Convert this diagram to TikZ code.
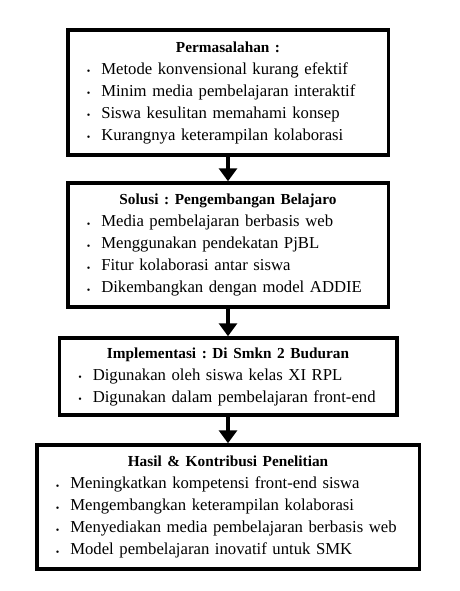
\documentclass[tikz,border=0pt]{standalone}
\usepackage{fontspec}
\setmainfont{Liberation Serif}
\frenchspacing
\usetikzlibrary{arrows.meta}
\newcommand{\butir}{\hspace*{11pt}\makebox[14.5pt][l]{\fontsize{10}{10}\selectfont\raisebox{-0.6pt}{\textbullet}}}
\newcommand{\judul}[1]{{\centering\fontsize{15.3}{22}\selectfont\bfseries #1\par}}
\tikzset{
  box/.style={draw, line width=3.5pt, rectangle, inner xsep=8pt, inner ysep=0pt,
    align=left, font=\fontsize{16.7}{22}\selectfont},
  panah/.style={line width=4pt, -{Triangle[width=18pt,length=13pt]}}
}
\begin{document}
\begin{tikzpicture}[x=1pt,y=1pt]
        \useasboundingbox (0,0) rectangle (459,-591);
        % boxes of the flow
        \node[box, minimum width=320.5pt, minimum height=125pt, text width=304.5pt] (permasalahan) at (228,-92.5)
          {\judul{Permasalahan :}\butir Metode konvensional kurang efektif\\
           \butir Minim media pembelajaran interaktif\\
           \butir Siswa kesulitan memahami konsep\\
           \butir Kurangnya keterampilan kolaborasi};
        \node[box, minimum width=320.5pt, minimum height=124pt, text width=304.5pt] (solusi) at (228,-245)
          {\judul{Solusi : Pengembangan Belajaro}\butir Media pembelajaran berbasis web\\
           \butir Menggunakan pendekatan PjBL\\
           \butir Fitur kolaborasi antar siswa\\
           \butir Dikembangkan dengan model ADDIE};
        \node[box, minimum width=337.5pt, minimum height=77pt, text width=321.5pt] (implementasi) at (228,-376.5)
          {\judul{Implementasi : Di Smkn 2 Buduran}\butir Digunakan oleh siswa kelas XI RPL\\
           \butir Digunakan dalam pembelajaran front-end};
        \node[box, minimum width=382.5pt, minimum height=124pt, text width=366.5pt] (hasil) at (228,-507)
          {\judul{Hasil \& Kontribusi Penelitian}\butir Meningkatkan kompetensi front-end siswa\\
           \butir Mengembangkan keterampilan kolaborasi\\
           \butir Menyediakan media pembelajaran berbasis web\\
           \butir Model pembelajaran inovatif untuk SMK};
        % arrows between the boxes
        \draw[panah] (permasalahan.south) -- (solusi.north);
        \draw[panah] (solusi.south)       -- (implementasi.north);
        \draw[panah] (implementasi.south) -- (hasil.north);
      \end{tikzpicture}
\end{document}
